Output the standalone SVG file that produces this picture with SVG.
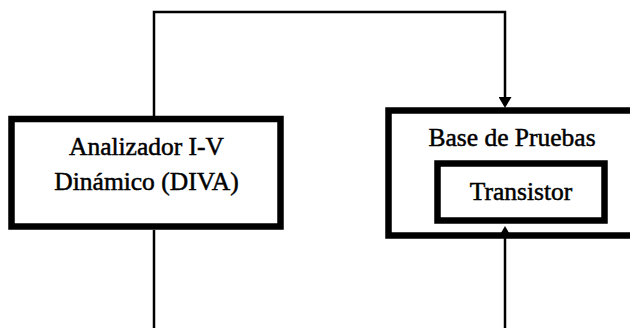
<svg xmlns="http://www.w3.org/2000/svg" width="630" height="328" viewBox="0 0 630 328">
  <defs>
    <style>
      .box { fill: #ffffff; stroke: #000000; stroke-width: 6.5; }
      .lbl { font-family: "Liberation Serif", "Times New Roman", serif; font-size: 25.5px; fill: #000000; stroke: #000000; stroke-width: 0.5; text-anchor: middle; }
      .conn { fill: none; stroke: #000000; stroke-width: 2.5; }
    </style>
    <marker id="arrow" markerUnits="userSpaceOnUse" markerWidth="11" markerHeight="13" refX="0" refY="6.5" orient="auto" viewBox="0 0 11 13">
      <path d="M0,0 L11,6.5 L0,13 Z" fill="#000000"/>
    </marker>
  </defs>
  <rect width="630" height="328" fill="#ffffff"/>

  <g id="node-diva">
    <rect class="box" x="11.5" y="119" width="269" height="107.5"/>
    <text class="lbl" x="146.5" y="155">Analizador I-V</text>
    <text class="lbl" x="146.5" y="190">Dinámico (DIVA)</text>
  </g>

  <g id="node-base">
    <rect class="box" x="388.5" y="110.5" width="260" height="125"/>
    <text class="lbl" x="512" y="146">Base de Pruebas</text>
  </g>

  <g id="node-transistor">
    <rect class="box" x="437.5" y="163.5" width="167" height="57"/>
    <text class="lbl" x="521" y="200">Transistor</text>
  </g>

  <g id="connectors">
    <path class="conn" d="M154,116 L154,12 L505,12 L505,97" marker-end="url(#arrow)"/>
    <path class="conn" d="M154,230 L154,328"/>
    <path class="conn" d="M505,328 L505,237" marker-end="url(#arrow)"/>
  </g>
</svg>
